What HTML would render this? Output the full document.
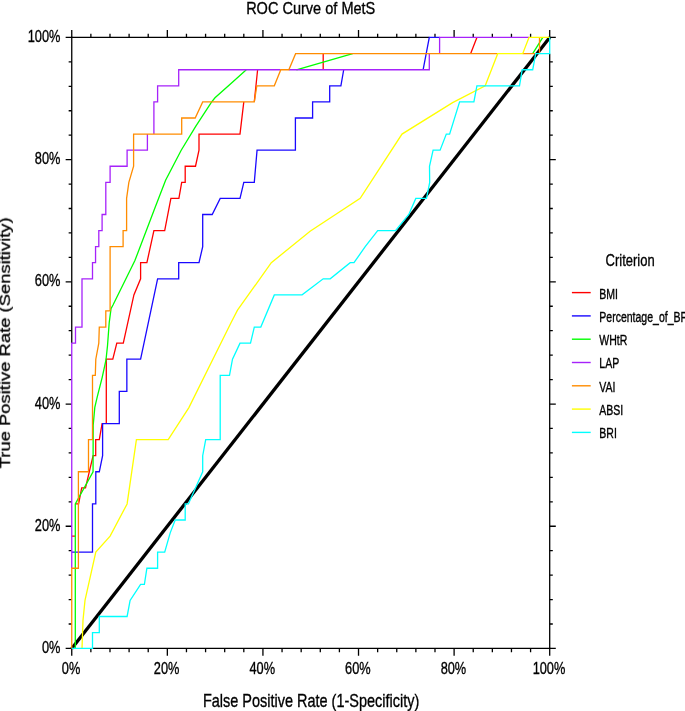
<!DOCTYPE html>
<html><head><meta charset="utf-8"><title>ROC Curve of MetS</title>
<style>html,body{margin:0;padding:0;background:#fff;}body{width:685px;height:711px;overflow:hidden;}svg{display:block;}text{font-family:"Liberation Sans",sans-serif;fill:#000;stroke:#000;stroke-width:0.35px;}</style></head><body>
<svg width="685" height="711" viewBox="0 0 685 711">
<rect x="0" y="0" width="685" height="711" fill="#fff"/>
<g stroke="#000" stroke-width="1.30" fill="none">
<path d="M71.10 648.45L71.75 648.45"/>
<path d="M92.50 648.45L550.35 648.45"/>
<path d="M71.10 37.40L429.30 37.40"/>
<path d="M549.70 37.40L550.35 37.40"/>
<path d="M71.75 649.10L71.75 648.45"/>
<path d="M71.75 343.12L71.75 36.75"/>
<path d="M549.70 649.10L549.70 53.68"/>
<path d="M549.70 37.40L549.70 36.75"/>
<path d="M71.75 648.45v7.30 M71.75 37.40v-7.30 M71.75 648.45h-6.10 M549.70 648.45h6.10"/>
<path d="M90.87 648.45v3.70 M90.87 37.40v-3.70 M71.75 624.01h-3.10 M549.70 624.01h3.10"/>
<path d="M109.99 648.45v3.70 M109.99 37.40v-3.70 M71.75 599.57h-3.10 M549.70 599.57h3.10"/>
<path d="M129.10 648.45v3.70 M129.10 37.40v-3.70 M71.75 575.12h-3.10 M549.70 575.12h3.10"/>
<path d="M148.22 648.45v3.70 M148.22 37.40v-3.70 M71.75 550.68h-3.10 M549.70 550.68h3.10"/>
<path d="M167.34 648.45v7.30 M167.34 37.40v-7.30 M71.75 526.24h-6.10 M549.70 526.24h6.10"/>
<path d="M186.46 648.45v3.70 M186.46 37.40v-3.70 M71.75 501.80h-3.10 M549.70 501.80h3.10"/>
<path d="M205.58 648.45v3.70 M205.58 37.40v-3.70 M71.75 477.36h-3.10 M549.70 477.36h3.10"/>
<path d="M224.69 648.45v3.70 M224.69 37.40v-3.70 M71.75 452.91h-3.10 M549.70 452.91h3.10"/>
<path d="M243.81 648.45v3.70 M243.81 37.40v-3.70 M71.75 428.47h-3.10 M549.70 428.47h3.10"/>
<path d="M262.93 648.45v7.30 M262.93 37.40v-7.30 M71.75 404.03h-6.10 M549.70 404.03h6.10"/>
<path d="M282.05 648.45v3.70 M282.05 37.40v-3.70 M71.75 379.59h-3.10 M549.70 379.59h3.10"/>
<path d="M301.17 648.45v3.70 M301.17 37.40v-3.70 M71.75 355.15h-3.10 M549.70 355.15h3.10"/>
<path d="M320.28 648.45v3.70 M320.28 37.40v-3.70 M71.75 330.70h-3.10 M549.70 330.70h3.10"/>
<path d="M339.40 648.45v3.70 M339.40 37.40v-3.70 M71.75 306.26h-3.10 M549.70 306.26h3.10"/>
<path d="M358.52 648.45v7.30 M358.52 37.40v-7.30 M71.75 281.82h-6.10 M549.70 281.82h6.10"/>
<path d="M377.64 648.45v3.70 M377.64 37.40v-3.70 M71.75 257.38h-3.10 M549.70 257.38h3.10"/>
<path d="M396.76 648.45v3.70 M396.76 37.40v-3.70 M71.75 232.94h-3.10 M549.70 232.94h3.10"/>
<path d="M415.87 648.45v3.70 M415.87 37.40v-3.70 M71.75 208.49h-3.10 M549.70 208.49h3.10"/>
<path d="M434.99 648.45v3.70 M434.99 37.40v-3.70 M71.75 184.05h-3.10 M549.70 184.05h3.10"/>
<path d="M454.11 648.45v7.30 M454.11 37.40v-7.30 M71.75 159.61h-6.10 M549.70 159.61h6.10"/>
<path d="M473.23 648.45v3.70 M473.23 37.40v-3.70 M71.75 135.17h-3.10 M549.70 135.17h3.10"/>
<path d="M492.35 648.45v3.70 M492.35 37.40v-3.70 M71.75 110.73h-3.10 M549.70 110.73h3.10"/>
<path d="M511.46 648.45v3.70 M511.46 37.40v-3.70 M71.75 86.28h-3.10 M549.70 86.28h3.10"/>
<path d="M530.58 648.45v3.70 M530.58 37.40v-3.70 M71.75 61.84h-3.10 M549.70 61.84h3.10"/>
<path d="M549.70 648.45v7.30 M549.70 37.40v-7.30 M71.75 37.40h-6.10 M549.70 37.40h6.10"/>
</g>
<line x1="71.75" y1="648.45" x2="549.70" y2="37.40" stroke="#000" stroke-width="3.3"/>
<path fill="none" stroke="#FF0000" stroke-width="1.30" stroke-linejoin="miter" stroke-linecap="butt" d="M71.75 536.09 L75.30 536.09 M75.30 503.93 L78.60 503.93 L81.70 487.85 L85.50 487.85 L93.10 455.69 L95.70 455.69 L95.70 439.61 L99.30 439.61 L102.10 423.53 L102.60 423.53 M106.30 423.53 L106.30 359.21 L112.80 359.21 L116.80 343.12 L123.30 343.12 L133.90 294.88 L140.60 278.80 L140.60 262.72 L146.90 262.72 L153.90 230.56 L164.70 230.56 L170.90 198.40 L178.90 198.40 L181.70 182.32 L185.20 182.32 L185.20 166.24 L195.50 166.24 L199.00 150.16 L199.00 134.08 L240.00 134.08 L243.80 101.92 M254.30 101.92 L257.60 69.76 M323.20 69.76 L323.20 53.68 M470.60 53.68 L476.90 37.40"/>
<path fill="none" stroke="#1A08FF" stroke-width="1.30" stroke-linejoin="miter" stroke-linecap="butt" d="M71.75 552.17 L92.50 552.17 L92.50 503.93 L95.80 503.93 L95.80 471.77 L99.30 471.77 L102.60 455.69 L102.60 423.53 L119.30 423.53 L119.30 391.37 L126.85 391.37 L126.85 359.21 L140.60 359.21 L157.60 278.80 L178.70 278.80 L178.70 262.72 L199.00 262.72 L202.70 246.64 L202.70 214.48 L212.20 214.48 L220.20 198.40 L240.00 198.40 L243.80 182.32 L254.30 182.32 L257.05 150.16 L295.40 150.16 L295.40 118.00 L312.60 118.00 L312.60 101.92 L329.70 101.92 L329.70 85.84 L340.90 85.84 L343.70 69.76 M423.10 69.76 L429.30 37.40 L439.60 37.40"/>
<path fill="none" stroke="#00FF00" stroke-width="1.30" stroke-linejoin="miter" stroke-linecap="butt" d="M75.30 648.45 L75.30 503.93 L93.05 471.77 L93.20 425.10 L94.80 407.40 L97.30 396.70 L102.20 377.30 L106.00 359.80 L107.50 345.70 L109.20 322.80 L111.00 308.80 L113.00 305.00 L134.80 260.85 L154.90 208.00 L165.60 180.20 L181.20 150.20 L195.70 126.40 L211.50 102.20 L215.00 97.80 L231.00 83.40 L246.30 69.76 M296.40 69.76 L352.70 53.68 M532.70 53.68 L542.80 37.40"/>
<path fill="none" stroke="#A622FA" stroke-width="1.30" stroke-linejoin="miter" stroke-linecap="butt" d="M71.75 568.25 L71.75 343.12 L75.50 343.12 L75.50 327.04 L82.00 327.04 L82.00 278.80 L92.50 278.80 L92.50 262.72 L95.55 262.72 L95.55 246.64 L98.80 246.64 L98.80 230.56 L102.10 230.56 L102.10 214.48 L105.80 214.48 L105.80 182.32 L110.10 182.32 L110.10 166.24 L127.10 166.24 L127.10 150.16 L147.40 150.16 L147.40 134.08 M153.90 134.08 L153.90 101.92 L157.60 101.92 L157.60 85.84 L178.70 85.84 L178.70 69.76 L280.80 69.76 M288.85 69.76 L429.30 69.76 L429.30 53.68 M439.60 53.68 L439.60 37.40 L529.00 37.40"/>
<path fill="none" stroke="#FF8C00" stroke-width="1.30" stroke-linejoin="miter" stroke-linecap="butt" d="M71.75 648.45 L71.75 568.25 L78.40 568.25 L78.40 471.77 L88.50 471.77 L88.50 439.61 L92.50 439.61 L92.50 375.29 L95.30 375.29 L95.80 359.21 L98.80 343.12 L99.30 327.04 L105.80 327.04 L105.80 310.96 L110.10 310.96 L110.10 246.64 L123.10 246.64 L123.10 230.56 L126.60 230.56 L126.60 198.40 L128.85 182.32 L133.60 166.24 L133.60 134.08 L181.70 134.08 L181.70 118.00 L195.20 118.00 L202.70 101.92 L254.30 101.92 L256.80 85.84 L274.30 85.84 L280.80 69.76 L288.85 69.76 L295.60 53.68 L497.70 53.68 M522.70 53.68 L535.70 53.68 M539.50 53.68 L539.50 37.40"/>
<path fill="none" stroke="#FFFF00" stroke-width="1.30" stroke-linejoin="miter" stroke-linecap="butt" d="M82.00 648.45 L83.00 620.20 L85.00 600.41 L95.80 552.17 L110.10 536.09 L127.10 503.93 L136.40 439.61 L168.20 439.61 L188.90 407.60 L231.00 322.70 L237.50 310.20 L271.30 262.72 L310.10 231.30 L360.20 198.40 L402.00 134.08 L452.60 102.60 L485.20 85.84 L497.70 53.68 L522.70 53.68 L529.00 37.40 L549.70 37.40"/>
<path fill="none" stroke="#00FFFF" stroke-width="1.30" stroke-linejoin="miter" stroke-linecap="butt" d="M71.75 648.45 L92.50 648.45 L92.50 632.57 L99.30 632.57 L99.30 616.49 L127.10 616.49 L130.10 600.41 L140.60 584.33 L144.40 584.33 L146.90 568.25 L157.60 568.25 L157.60 552.17 L164.70 552.17 L170.20 532.87 L175.20 520.01 L185.20 520.01 L185.20 503.93 L188.40 503.93 L202.70 471.77 L202.70 455.69 L205.70 439.61 L220.20 439.61 L220.20 375.29 L229.50 375.29 L232.50 359.21 L240.00 343.12 L250.50 343.12 L254.30 327.04 L260.80 327.04 L274.30 294.88 L302.10 294.88 L323.20 278.80 L330.20 278.80 L350.20 262.72 L354.00 262.72 L365.20 246.64 L377.70 230.56 L395.50 230.56 L408.80 214.48 L415.80 198.40 L426.50 198.40 L429.70 182.32 L429.50 166.24 L433.10 150.16 L440.10 150.16 L446.30 134.08 L449.60 134.08 L459.60 101.92 L473.90 101.92 L476.90 85.84 L519.50 85.84 L522.20 69.76 L532.70 69.76 L535.70 53.68 L549.70 53.68 L549.70 37.40"/>
<g style="filter:grayscale(1)">
<text transform="translate(71.05 673.70) scale(0.770 1)" font-size="16.60" text-anchor="middle">0%</text>
<text transform="translate(60.40 653.05) scale(0.772 1)" font-size="16.60" text-anchor="end">0%</text>
<text transform="translate(166.64 673.70) scale(0.770 1)" font-size="16.60" text-anchor="middle">20%</text>
<text transform="translate(60.40 530.84) scale(0.772 1)" font-size="16.60" text-anchor="end">20%</text>
<text transform="translate(262.23 673.70) scale(0.770 1)" font-size="16.60" text-anchor="middle">40%</text>
<text transform="translate(60.40 408.63) scale(0.772 1)" font-size="16.60" text-anchor="end">40%</text>
<text transform="translate(357.82 673.70) scale(0.770 1)" font-size="16.60" text-anchor="middle">60%</text>
<text transform="translate(60.40 286.42) scale(0.772 1)" font-size="16.60" text-anchor="end">60%</text>
<text transform="translate(453.41 673.70) scale(0.770 1)" font-size="16.60" text-anchor="middle">80%</text>
<text transform="translate(60.40 164.21) scale(0.772 1)" font-size="16.60" text-anchor="end">80%</text>
<text transform="translate(549.00 673.70) scale(0.770 1)" font-size="16.60" text-anchor="middle">100%</text>
<text transform="translate(60.40 42.00) scale(0.772 1)" font-size="16.60" text-anchor="end">100%</text>
<text transform="translate(310.70 14.45) scale(0.850 1)" font-size="17.10" text-anchor="middle">ROC Curve of MetS</text>
<text transform="translate(311.10 706.80) scale(0.787 1)" font-size="18.40" text-anchor="middle">False Positive Rate (1-Specificity)</text>
<text transform="translate(9.9 342.75) rotate(-90) scale(1 0.78)" font-size="18.4" text-anchor="middle">True Positive Rate (Sensitivity)</text>
<text transform="translate(630.10 266.30) scale(0.765 1)" font-size="17.00" text-anchor="middle">Criterion</text>
<text transform="translate(599.30 298.50) scale(0.757 1)" font-size="13.90" text-anchor="start">BMI</text>
<text transform="translate(599.30 321.80) scale(0.757 1)" font-size="13.90" text-anchor="start">Percentage_of_BF</text>
<text transform="translate(599.30 345.10) scale(0.757 1)" font-size="13.90" text-anchor="start">WHtR</text>
<text transform="translate(599.30 368.40) scale(0.757 1)" font-size="13.90" text-anchor="start">LAP</text>
<text transform="translate(599.30 391.70) scale(0.757 1)" font-size="13.90" text-anchor="start">VAI</text>
<text transform="translate(599.30 415.00) scale(0.757 1)" font-size="13.90" text-anchor="start">ABSI</text>
<text transform="translate(599.30 438.30) scale(0.757 1)" font-size="13.90" text-anchor="start">BRI</text>
</g>
<line x1="571.9" y1="292.60" x2="590.7" y2="292.60" stroke="#FF0000" stroke-width="1.4"/>
<line x1="571.9" y1="315.90" x2="590.7" y2="315.90" stroke="#1A08FF" stroke-width="1.4"/>
<line x1="571.9" y1="339.20" x2="590.7" y2="339.20" stroke="#00FF00" stroke-width="1.4"/>
<line x1="571.9" y1="362.50" x2="590.7" y2="362.50" stroke="#A622FA" stroke-width="1.4"/>
<line x1="571.9" y1="385.80" x2="590.7" y2="385.80" stroke="#FF8C00" stroke-width="1.4"/>
<line x1="571.9" y1="409.10" x2="590.7" y2="409.10" stroke="#FFFF00" stroke-width="1.4"/>
<line x1="571.9" y1="432.40" x2="590.7" y2="432.40" stroke="#00FFFF" stroke-width="1.4"/>
</svg></body></html>
